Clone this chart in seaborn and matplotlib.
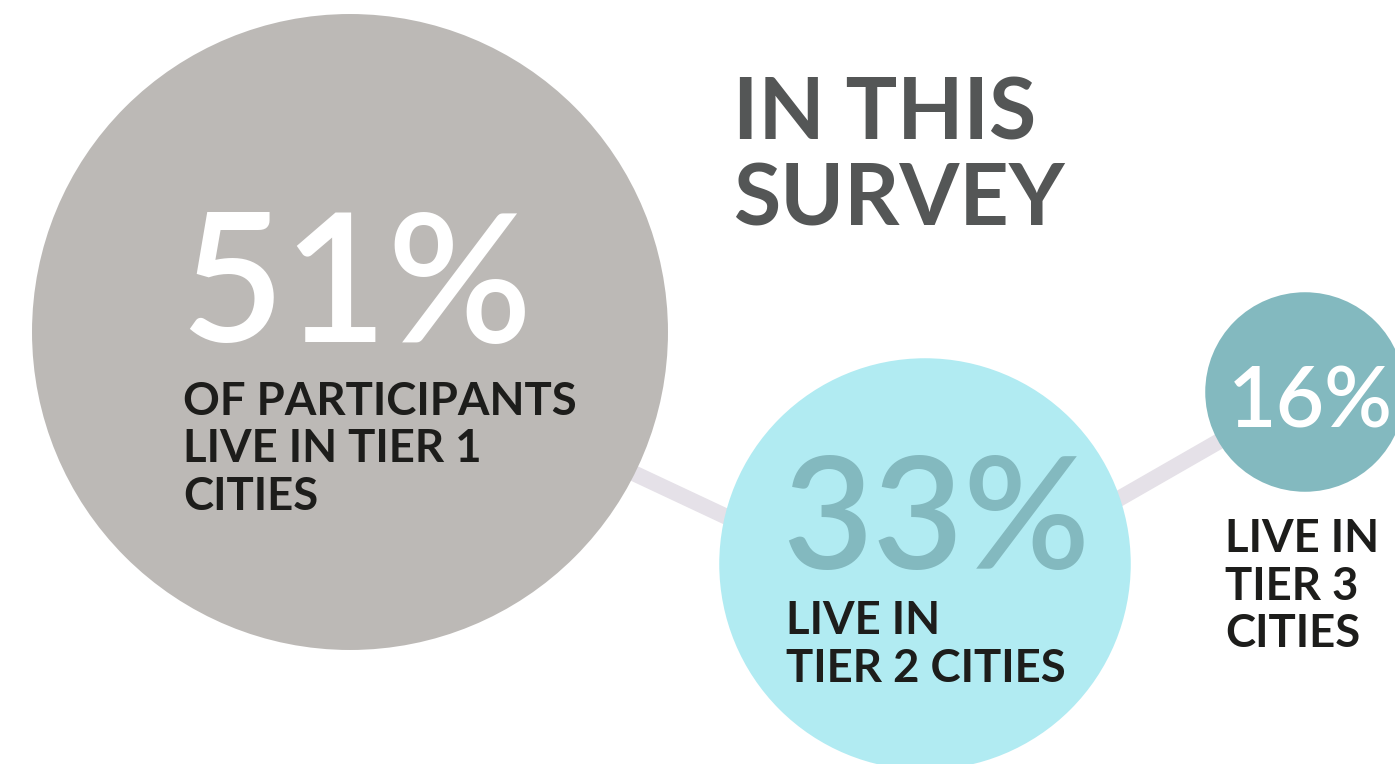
import matplotlib
matplotlib.use("Agg")
import matplotlib.pyplot as plt
import seaborn as sns
import pandas as pd

# Share of survey participants by city tier
tiers = ["Tier 1", "Tier 2", "Tier 3"]
shares = [51, 33, 16]
share_labels = ["51%", "33%", "16%"]
captions = [
    ["OF PARTICIPANTS", "LIVE IN TIER 1", "CITIES"],
    ["LIVE IN", "TIER 2 CITIES"],
    ["LIVE IN", "TIER 3", "CITIES"],
]
title_lines = ["IN THIS", "SURVEY"]

# Layout (figure pixels, y pointing down)
W, H, DPI = 1395, 764, 100
centers_x = [350, 925, 1305]
centers_y = [332, 564, 392]
link_x = [350, 925, 1305]
link_y = [340, 610, 392]
px_per_point = 6.235          # bubble radius per percentage point

bubble_colors = {"Tier 1": "#BCB9B6", "Tier 2": "#B1EBF2", "Tier 3": "#83B9BF"}
number_colors = ["#FFFFFF", "#83B9BF", "#FFFFFF"]
caption_color = "#1D1D1B"
title_color = "#545656"
link_color = "#E5E1E8"

sns.set_theme(style="white")
plt.rcParams["font.family"] = ["Lato", "DejaVu Sans"]

fig = plt.figure(figsize=(W / DPI, H / DPI), dpi=DPI)
ax = fig.add_axes([0, 0, 1, 1])
ax.set_xlim(0, W)
ax.set_ylim(H, 0)
ax.axis("off")

df = pd.DataFrame({"tier": tiers, "share": shares, "x": centers_x, "y": centers_y})
# marker area in points^2 so that the drawn radius equals share * px_per_point
sizes = {t: (2 * s * px_per_point * 72 / DPI) ** 2 for t, s in zip(tiers, shares)}

sns.lineplot(x=link_x, y=link_y, sort=False, color=link_color,
             linewidth=16 * 72 / DPI, ax=ax, zorder=1, solid_capstyle="butt")
sns.scatterplot(data=df, x="x", y="y", hue="tier", palette=bubble_colors,
                size="tier", sizes=sizes, linewidth=0, legend=False,
                ax=ax, zorder=2, alpha=1)

# Headline
for i, line in enumerate(title_lines):
    ax.text(733, 140 + i * 86, line, fontsize=62, fontweight="bold",
            color=title_color, va="baseline", ha="left", zorder=3)

# Big percentages: (left, baseline, cap height in px)
num_pos = [(180, 342, 128), (782, 569, 112), (1228, 427, 60)]
for (x, y, cap), lab, col in zip(num_pos, share_labels, number_colors):
    ax.text(x, y, lab, fontsize=cap / 0.7165 * 72 / DPI, fontweight="semibold",
            color=col, va="baseline", ha="left", zorder=3)

# Captions
cap_pos = [(183, 415), (786, 634), (1225, 552)]
for (x, y), lines in zip(cap_pos, captions):
    for j, line in enumerate(lines):
        ax.text(x, y + j * 47.5, line, fontsize=32.8, fontweight="bold",
                color=caption_color, va="baseline", ha="left", zorder=3)

fig.savefig("out.png", dpi=DPI, facecolor="white")
